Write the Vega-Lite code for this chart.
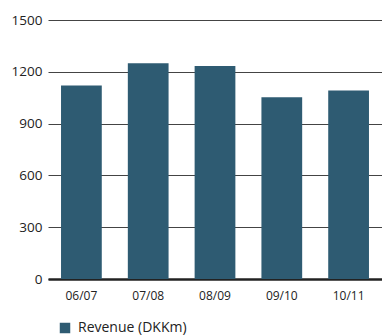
{
  "$schema": "https://vega.github.io/schema/vega-lite/v6.json",
  "width": 334,
  "height": 259,
  "autosize": {"type": "none"},
  "padding": {"left": 48, "top": 20, "right": 0, "bottom": 56},
  "background": "white",
  "config": {"view": {"stroke": null}, "font": "Open Sans"},
  "data": {
    "values": [
      {"year": "06/07", "revenue": 1120, "series": "Revenue (DKKm)"},
      {"year": "07/08", "revenue": 1250, "series": "Revenue (DKKm)"},
      {"year": "08/09", "revenue": 1233, "series": "Revenue (DKKm)"},
      {"year": "09/10", "revenue": 1053, "series": "Revenue (DKKm)"},
      {"year": "10/11", "revenue": 1092, "series": "Revenue (DKKm)"}
    ]
  },
  "mark": {"type": "bar"},
  "encoding": {
    "x": {
      "field": "year", "type": "nominal", "sort": null,
      "scale": {"paddingInner": 0.39, "paddingOuter": 0.195},
      "axis": {"title": null, "labelAngle": 0, "labelFontSize": 12, "labelColor": "#222",
               "domainColor": "#222", "domainWidth": 2.5, "ticks": false, "labelPadding": 11}
    },
    "y": {
      "field": "revenue", "type": "quantitative",
      "scale": {"domain": [0, 1500]},
      "axis": {"title": null, "values": [0, 300, 600, 900, 1200, 1500], "format": "d", "domain": false, "ticks": false,
               "labelFontSize": 13.5, "labelColor": "#222", "labelPadding": 6,
               "gridColor": "#444", "gridWidth": 1}
    },
    "color": {
      "field": "series", "type": "nominal",
      "scale": {"range": ["#2e5b72"]},
      "legend": {"title": null, "orient": "none", "legendX": 10, "legendY": 301,
                 "symbolType": "square", "symbolSize": 110, "symbolStrokeWidth": 0,
                 "labelFontSize": 14, "labelColor": "#222", "labelOffset": 6}
    }
  }
}
